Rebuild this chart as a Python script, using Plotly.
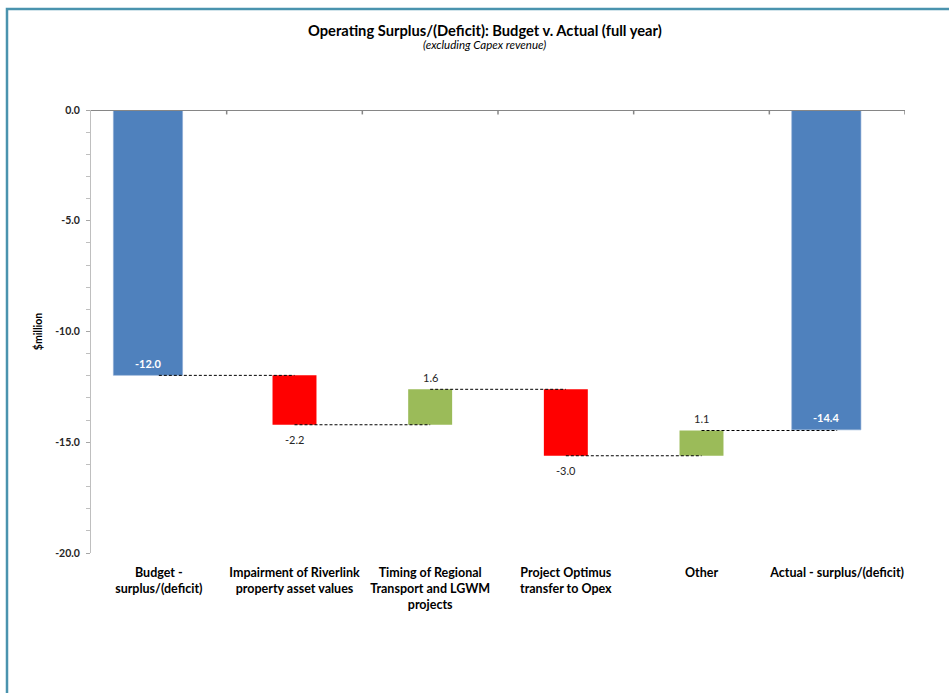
import plotly.graph_objects as go

# ---------------- data ----------------
categories = [
    "Budget -<br>surplus/(deficit)",
    "Impairment of Riverlink<br>property asset values",
    "Timing of Regional<br>Transport and LGWM<br>projects",
    "Project Optimus<br>transfer to Opex",
    "Other",
    "Actual - surplus/(deficit)",
]
budget_value = -11.98
change_values = [-2.23, 1.60, -3.00, 1.14]
actual_value = -14.44
ytick_values = [-20, -15, -10, -5, 0]
ytick_labels = ["-20.0", "-15.0", "-10.0", "-5.0", "0.0"]

BLUE = "#4F81BD"
RED = "#FF0000"
GREEN = "#9BBB59"
FONT = "Lato"

# running totals for waterfall bases
bases = []
level = budget_value
for c in change_values:
    bases.append(level)
    level += c
levels = [budget_value] + [b + c for b, c in zip(bases, change_values)]

fig = go.Figure()

# totals (blue)
fig.add_trace(go.Bar(
    x=[categories[0], categories[-1]],
    y=[budget_value, actual_value],
    width=0.51, offset=-0.335,
    marker=dict(color=BLUE, line=dict(color="#8AAAD3", width=0.6)),
    hoverinfo="skip", showlegend=False,
))

# changes (red/green)
fig.add_trace(go.Bar(
    x=categories[1:-1],
    y=change_values,
    base=bases,
    width=0.324, offset=-0.162,
    marker=dict(color=[RED if c < 0 else GREEN for c in change_values], line=dict(width=0)),
    hoverinfo="skip", showlegend=False,
))

# dashed connectors
cx, cy = [], []
for i, lv in enumerate(levels):
    cx += [categories[i], categories[i + 1], None]
    cy += [lv, lv, None]
fig.add_trace(go.Scatter(
    x=cx, y=cy, mode="lines",
    line=dict(color="#000000", width=1, dash="3px,2px"),
    hoverinfo="skip", showlegend=False,
))

annotations = []
# total labels (white, inside bar near end)
for idx, val in [(0, budget_value), (len(categories) - 1, actual_value)]:
    annotations.append(dict(
        x=idx - 0.08, y=val, xref="x", yref="y", text=f"{val:.1f}",
        showarrow=False, yshift=12,
        font=dict(family=FONT, size=11, color="white", weight="bold"),
    ))
# change labels
for i, (b, c) in enumerate(zip(bases, change_values)):
    end = b + c
    annotations.append(dict(
        x=i + 1, y=end, xref="x", yref="y", text=f"{c:.1f}",
        showarrow=False, yshift=(12 if c > 0 else -15),
        font=dict(family=FONT, size=11, color="#262626"),
    ))
# titles
annotations.append(dict(
    x=0.484, y=30, xref="paper", yref="paper", yanchor="middle",
    text="<b>Operating Surplus/(Deficit): Budget v. Actual (full year)</b>",
    showarrow=False, font=dict(family=FONT, size=14.7, color="#000000"),
))
annotations.append(dict(
    x=0.484, y=45, xref="paper", yref="paper", yanchor="middle",
    text="<i>(excluding Capex revenue)</i>",
    showarrow=False, font=dict(family=FONT, size=11.5, color="#000000"),
))

# convert title pixel y to paper coords
PT, PB = 110, 553
for a in annotations[-2:]:
    a["y"] = (PB - a["y"]) / (PB - PT)

shapes = []
# x axis line at y=0 (top)
shapes.append(dict(type="line", xref="paper", yref="y", x0=0, x1=1, y0=0, y1=0,
                   line=dict(color="#868686", width=2), layer="above"))
# category boundary ticks on the top axis line
for k in range(len(categories)):
    shapes.append(dict(type="line", xref="x", yref="y", x0=k + 0.5, x1=k + 0.5,
                       y0=0, y1=-0.2, line=dict(color="#868686", width=1.5)))
# outer chart border
shapes.append(dict(type="rect", xref="paper", yref="paper",
                   x0=(7 - 91) / 814, x1=1.3, y0=-0.5, y1=(553 - 9) / 443,
                   line=dict(color="#4A93AE", width=2.5), layer="below"))

fig.update_layout(
    width=949, height=693,
    margin=dict(l=91, r=44, t=110, b=140, pad=0),
    paper_bgcolor="white", plot_bgcolor="white",
    barmode="overlay",
    font=dict(family=FONT, color="#000000"),
    annotations=annotations,
    shapes=shapes,
    showlegend=False,
)
fig.update_xaxes(
    type="category", categoryorder="array", categoryarray=categories,
    range=[-0.5, len(categories) - 0.5],
    showline=False, showgrid=False, zeroline=False, ticks="",
    ticklabelstandoff=10,
    tickfont=dict(family=FONT, size=12.5, color="#000000", weight="bold"),
)
fig.update_yaxes(
    range=[-20, 0], tickmode="array", tickvals=ytick_values, ticktext=ytick_labels,
    showline=True, linecolor="#BFBFBF", linewidth=1,
    showgrid=False, zeroline=False,
    ticks="outside", ticklen=4, tickcolor="#A6A6A6",
    minor=dict(tickmode="linear", tick0=0, dtick=1, ticks="outside", ticklen=4, tickcolor="#BFBFBF"),
    ticklabelstandoff=4,
    tickfont=dict(family=FONT, size=10.5, color="#262626", weight="bold"),
    title=dict(text="$million", standoff=10,
               font=dict(family=FONT, size=10.5, color="#000000", weight="bold")),
)

fig.write_html("out.html")
